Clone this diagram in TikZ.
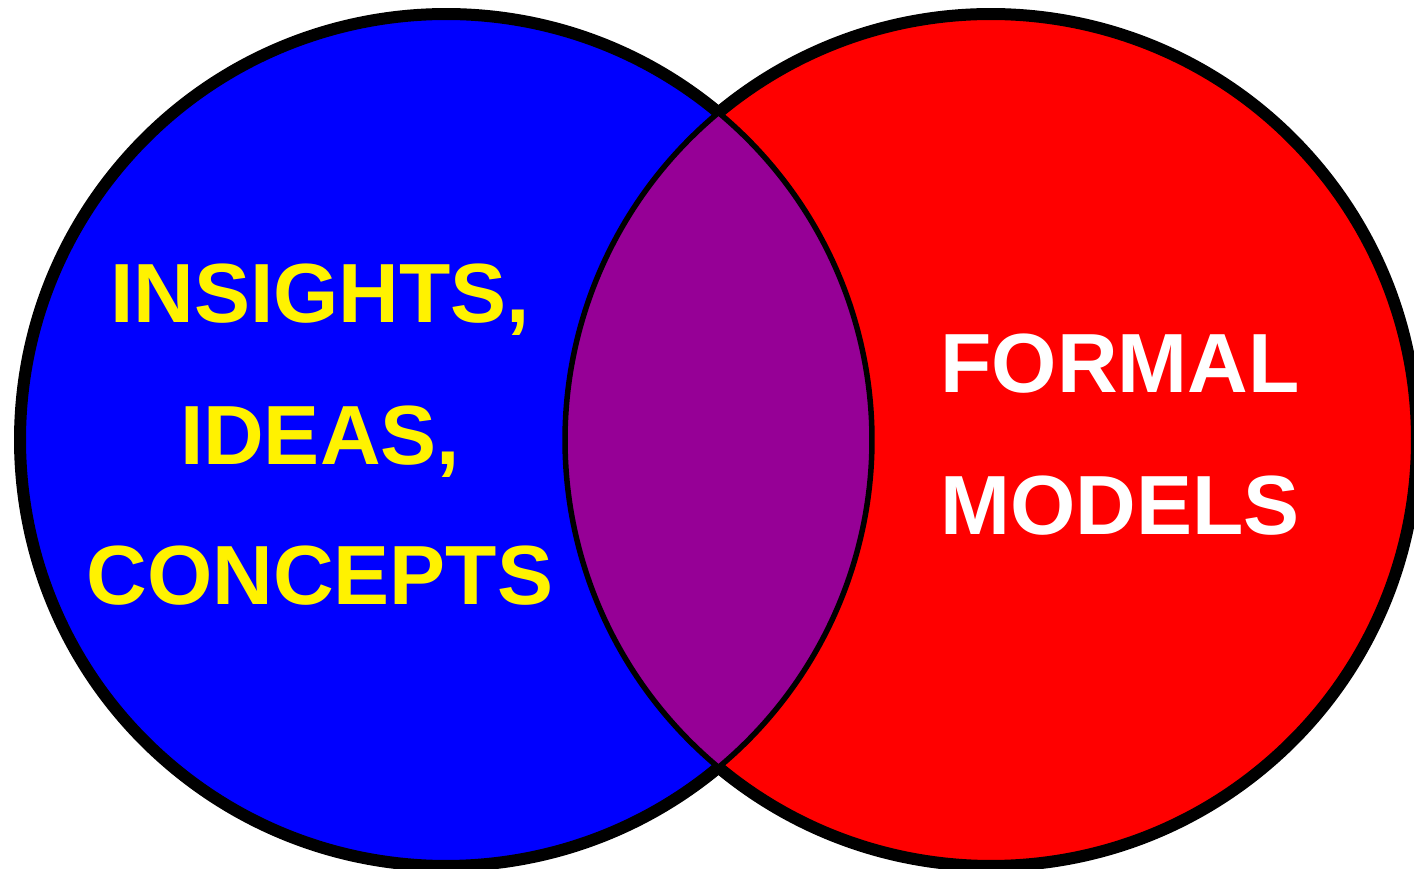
\documentclass[tikz,border=0pt]{standalone}
\usepackage{fontspec}
\setmainfont{Liberation Sans}
\definecolor{lensviolet}{RGB}{150,0,150}
\tikzset{
  outerline/.style={line width=0.24cm, black},
  lensline/.style={line width=0.11cm, black},
  venntext/.style={font=\bfseries\fontsize{47.8}{57}\selectfont, inner sep=0pt, anchor=base},
}

\begin{document}
\begin{tikzpicture}[x=0.02cm, y=0.02cm]
\useasboundingbox (0,0) rectangle (1414,869);
\coordinate (L) at (446,429);
\coordinate (R) at (991,429);
\coordinate (top) at (718.5,756.4);
\coordinate (bot) at (718.5,101.6);
\fill[blue] (L) circle[radius=426];
\fill[red] (R) circle[radius=426];
\fill[lensviolet] (top) arc[start angle=129.77, end angle=230.23, radius=426]
  arc[start angle=-50.23, end angle=50.23, radius=426] -- cycle;
\draw[lensline] (top) arc[start angle=129.77, end angle=230.23, radius=426];
\draw[lensline] (bot) arc[start angle=-50.23, end angle=50.23, radius=426];
\draw[outerline] (top) arc[start angle=50.23, end angle=309.77, radius=426];
\draw[outerline] (top) arc[start angle=129.77, end angle=-129.77, radius=426];
\node[venntext, yellow] (insights) at (320,546) {INSIGHTS,};
\node[venntext, yellow] (ideas) at (320,404) {IDEAS,};
\node[venntext, yellow] (concepts) at (320,264) {CONCEPTS};
\node[venntext, white] (formal) at (1120,476) {FORMAL};
\node[venntext, white] (models) at (1120,334) {MODELS};
\end{tikzpicture}
\end{document}
